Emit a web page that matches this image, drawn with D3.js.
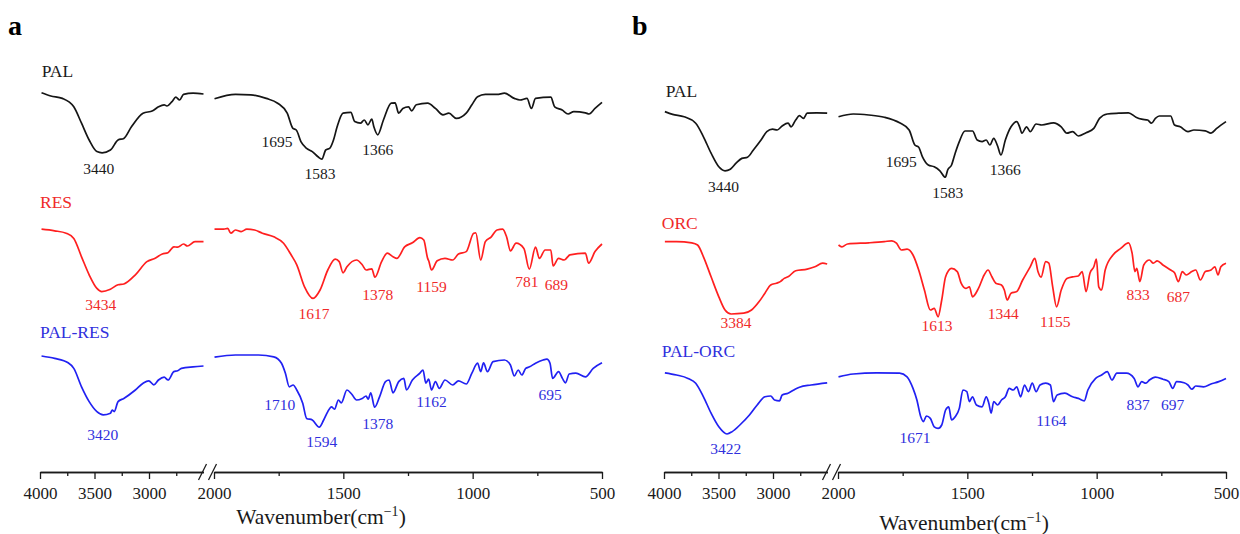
<!DOCTYPE html>
<html>
<head>
<meta charset="utf-8">
<script src="https://cdn.jsdelivr.net/npm/d3@7"></script>
<style>
  body { margin: 0; background: #fff; }
  svg text { font-family: "Liberation Serif", "Times New Roman", serif; }
</style>
</head>
<body>
<svg id="chart" width="1240" height="534"></svg>
<script>
// ---- data: [wavenumber (cm-1), transmittance (a.u., stacked)] ----
const PAL_A = [
  [3986,94.3],[3901,93.5],[3795,92.9],[3690,90.8],[3619,86.7],[3549,82.5],[3478,79.6],[3430,79.3],[3354,80],[3284,82.5],
  [3231,82.9],[3161,85.8],[3055,89.2],[2966,89.8],[2913,90.8],[2861,91.3],[2836,91],[2789,92.1],[2754,93.2],[2719,92.5],
  [2683,93.9],[2596,94.2],[2500,94],
  [1998,92.8],[1917,93.9],[1858,93.8],[1798,92.9],[1754,91.7],[1717,89.2],[1695,85.4],[1682,85],[1664,82.1],[1642,80.4],
  [1620,79.6],[1598,78.3],[1583,77.7],[1568,80],[1553,80.4],[1538,82.5],[1524,85.8],[1501,89.2],[1471,89.4],[1456,87.1],
  [1434,86.7],[1419,87.5],[1405,86.3],[1390,87.7],[1382,85.8],[1367,83.8],[1345,87.5],[1315,91.7],[1300,91.8],[1286,89.2],
  [1270,90.4],[1248,90.8],[1236,89.8],[1218,91.3],[1174,91.7],[1144,90.4],[1115,88.8],[1092,89.2],[1063,87.9],[1025,89.2],
  [1003,91.3],[981,93.3],[951,93.9],[906,93.9],[877,94.2],[839,92.9],[817,92.5],[790,92.9],[773,90.4],[757,92.9],
  [698,93.2],[683,90.8],[654,90],[631,89],[609,89.6],[564,89.3],[550,89],[527,90.4],[500,91.9]
];

const RES = [
  [3986,60.2],[3866,59.8],[3760,59.2],[3690,57.9],[3619,53.3],[3549,48.8],[3478,45.4],[3434,44.6],[3354,45.2],[3284,46.3],
  [3231,46.5],[3125,48.8],[3019,52.1],[2948,52.9],[2878,54],[2826,54.3],[2772,55.8],[2737,55.7],[2683,56.5],[2648,56],
  [2578,57.1],[2500,57.1],
  [1998,60.2],[1962,60.2],[1947,60.4],[1935,59.2],[1917,60],[1895,59.6],[1873,60.2],[1843,60],[1813,59.2],[1769,58.3],
  [1731,56.7],[1702,53.8],[1680,51.3],[1650,45.8],[1617,42.9],[1590,45],[1560,50],[1531,52.7],[1516,52.1],[1501,49.3],
  [1486,50.8],[1449,52.5],[1427,51.3],[1412,50],[1390,50.3],[1378,48.2],[1352,52.1],[1330,54.2],[1308,53.3],[1293,52.9],
  [1263,55.8],[1233,56.8],[1204,58.1],[1189,57.5],[1174,52.9],[1170,52.3],[1159,50],[1137,52.3],[1107,52.9],[1077,52.5],
  [1055,54],[1025,54.6],[996,59.2],[988,59.3],[969,52.5],[951,57.1],[928,58.3],[906,60],[884,60.2],[869,58.3],
  [854,54.8],[832,56.7],[802,55.4],[781,50.2],[757,55.7],[742,52.9],[720,55],[698,55],[689,51],[668,52.9],
  [646,52.5],[624,53.8],[564,54.2],[552,51.7],[527,54.6],[500,56.5]
];

const PAL_RES = [
  [3986,28.5],[3866,27.9],[3742,26.8],[3690,25.4],[3619,20.8],[3549,17.1],[3478,14.6],[3420,13.8],[3354,14.2],[3337,15],
  [3319,14.6],[3284,17.1],[3231,17.9],[3125,20],[3054,21.7],[3002,22.3],[2956,21.3],[2913,22.5],[2861,23.2],[2825,22.5],
  [2772,24.6],[2737,24.8],[2702,25.4],[2596,25.8],[2500,26],
  [1998,28.2],[1917,28.75],[1828,28.75],[1769,28.3],[1739,26.7],[1724,24.2],[1709,20.8],[1694,21.25],[1680,20],[1657,16.7],
  [1642,12.9],[1620,12.5],[1593,10.7],[1576,12.5],[1560,14.6],[1546,15.8],[1534,15.2],[1519,17.5],[1508,16.8],[1486,20],
  [1468,19],[1449,17.5],[1427,17.9],[1412,18.5],[1404,17.7],[1394,19.3],[1379,15.7],[1360,18.3],[1337,22.1],[1323,22.5],
  [1308,19.3],[1286,22.1],[1266,22.9],[1256,20],[1233,22.5],[1204,24.2],[1192,25],[1181,21.7],[1170,22.7],[1159,20],
  [1144,22.1],[1129,20.4],[1107,22.5],[1077,21.25],[1055,22.3],[1025,21.5],[1003,24.2],[981,26.7],[969,24.6],[958,26.8],
  [943,24.6],[921,27.1],[877,27.5],[854,26.25],[839,23.5],[824,25],[810,23.75],[795,25.4],[780,25.8],[757,26.7],
  [728,27.5],[713,27.7],[701,26.7],[691,22.9],[668,24.6],[653,22.9],[641,21.8],[627,24],[601,24.2],[564,23.3],
  [534,25.4],[500,26.8]
];

const PAL_B = [
  [3992,89.6],[3921,88.9],[3815,88.3],[3709,86.7],[3638,83.3],[3568,79.2],[3497,75.8],[3440,74.8],[3392,75.2],[3339,76.7],
  [3286,77.9],[3234,78.2],[3180,80],[3110,82.5],[3057,84.6],[3004,85.2],[2961,85],[2916,86],[2862,86.7],[2834,85.8],
  [2792,87.5],[2757,88.6],[2721,87.9],[2686,89.2],[2598,89.3],[2503,89.2],
  [1998,88.3],[1941,89],[1881,88.75],[1821,88.2],[1762,86.8],[1725,85],[1703,81.25],[1688,80.7],[1673,78.2],[1651,76.25],
  [1628,75.8],[1606,74.8],[1585,73.2],[1576,75],[1561,76.25],[1547,79.2],[1531,82.1],[1509,84.75],[1480,84.75],[1462,82.5],
  [1443,82.1],[1427,82.5],[1413,81.25],[1398,82.9],[1383,81],[1370,78.75],[1353,82.5],[1331,85.8],[1309,87.1],[1298,85.8],
  [1289,84.2],[1271,85.8],[1257,84.6],[1234,86.5],[1212,86.25],[1167,86.8],[1137,85.8],[1115,84.2],[1093,84.6],[1071,83.5],
  [1041,84.3],[1011,85.4],[989,87.9],[959,89],[914,89.2],[877,89.3],[848,88.2],[826,87.7],[803,87.5],[788,86.7],
  [773,87.9],[758,88.5],[714,88.5],[699,86.25],[677,85.8],[647,84.6],[624,85],[580,84.8],[558,84.2],[536,85.4],
  [500,87.1]
];

const ORC = [
  [3992,57.1],[3885,57.1],[3745,56.8],[3692,56.25],[3638,53.3],[3568,48.3],[3497,43.3],[3440,40],[3384,39],[3268,39.2],
  [3197,40],[3127,42.1],[3074,44.2],[3021,46.25],[2968,46.7],[2933,47.1],[2897,47.9],[2862,48.3],[2792,49.8],[2686,50.2],
  [2616,50.8],[2545,51.7],[2503,51.5],
  [1998,56.25],[1985,55.8],[1963,56.5],[1881,56.8],[1821,57.1],[1792,57.3],[1774,56.7],[1755,55],[1733,55.2],[1710,53.75],
  [1688,50],[1666,45],[1643,40],[1628,40.4],[1613,38.3],[1599,42.5],[1584,48.3],[1561,50.4],[1539,49.6],[1524,46.7],
  [1506,45.4],[1492,45.8],[1480,43.3],[1457,45.4],[1435,48.75],[1420,50],[1405,48.3],[1390,46.7],[1368,46.25],[1357,45],
  [1346,42.5],[1331,44.2],[1309,44.6],[1286,47.5],[1257,50.8],[1239,52.9],[1227,49.6],[1215,48.2],[1197,52.1],[1185,51.7],
  [1170,45.8],[1155,40.8],[1137,45],[1115,47.9],[1093,48.3],[1071,48.5],[1056,49.6],[1041,44.6],[1026,49.2],[1011,50.8],
  [1001,52.7],[992,45.8],[981,45],[967,50],[937,53.75],[907,55.4],[877,56.8],[863,54.2],[852,49.6],[845,50.4],
  [833,47.1],[818,51.25],[796,52.5],[781,51.7],[766,52.3],[744,51.25],[714,50],[699,49.3],[684,47.1],[669,49.6],
  [654,48.75],[632,49.6],[617,50],[599,47.5],[580,49.6],[558,50],[543,50.8],[531,48.75],[520,50.8],[500,51.7]
];

const PAL_ORC = [
  [3992,24.3],[3885,23.75],[3780,22.9],[3709,21.7],[3638,18.3],[3568,14.2],[3497,10.8],[3422,9],[3374,9.6],[3304,11.25],
  [3216,13.75],[3145,16.25],[3074,18.3],[3021,18.5],[2986,17.5],[2940,17.3],[2916,18.75],[2862,19.2],[2809,20],[2757,20.7],
  [2651,21.25],[2503,21.8],
  [1998,23.3],[1941,24],[1851,24.3],[1762,24.2],[1733,23.3],[1710,20.4],[1695,17.5],[1680,13.3],[1670,12.1],[1658,13.5],
  [1643,12.9],[1628,10.8],[1613,10.4],[1599,11.25],[1584,15],[1572,15.8],[1561,12.5],[1547,13.3],[1531,15.4],[1517,20],
  [1502,19.6],[1492,17.1],[1480,18.3],[1465,16.25],[1443,15.8],[1427,18.3],[1417,16.7],[1408,14.2],[1398,17.1],[1383,16.25],
  [1368,17.5],[1353,18.3],[1338,20.4],[1323,20],[1309,20.8],[1294,18.3],[1279,21.25],[1264,19.6],[1249,21.7],[1234,19.6],
  [1219,21.25],[1197,21.7],[1179,21.25],[1167,17.1],[1153,18.75],[1123,19.2],[1093,18.3],[1071,17.9],[1048,17.3],[1034,20],
  [1004,22.9],[981,23.75],[959,24.6],[941,22.5],[922,24.2],[885,24.2],[855,22.9],[840,20.8],[826,22.1],[810,21.7],
  [796,22.5],[773,23.2],[744,22.7],[721,22.1],[706,20.4],[691,22.1],[662,21.8],[647,21.25],[632,20.2],[617,21],
  [587,20.8],[558,21.5],[528,22.1],[500,22.9]
];

// peak annotations: [text, wavenumber, transmittance of baseline]
const PAL_A_PEAKS = [["3440",3461,74],["1695",1756,80.75],["1583",1590,72.75],["1366",1367,78.75]];
const RES_PEAKS = [["3434",3442,39.9],["1617",1613,37.75],["1378",1367,42.4],["1159",1159,44.5],["781",790,45.75],["689",676,44.9]];
const PAL_RES_PEAKS = [["3420",3425,7.4],["1710",1746,14.9],["1594",1583,5.75],["1378",1367,10.25],["1162",1159,15.75],["695",701,17.4]];
const PAL_B_PEAKS = [["3440",3455,69.5],["1695",1755,75.75],["1583",1576,68],["1366",1353,73.75]];
const ORC_PEAKS = [["3384",3339,35.5],["1613",1617,34.75],["1344",1361,37.75],["1155",1160,35.75],["833",840,42.4],["687",684,42]];
const PAL_ORC_PEAKS = [["3422",3434,4],["1671",1702,6.75],["1164",1175,11.1],["837",840,14.9],["697",706,14.9]];

// tick values for the broken axis
const LEFT_MAJOR = [4000, 3500, 3000];
const LEFT_MINOR = [3750, 3250, 2750];
const RIGHT_MAJOR = [2000, 1500, 1000, 500];
const RIGHT_MINOR = [1750, 1250, 750];

const COLORS = { black: "#151515", red: "#ff1f1f", blue: "#2121f2" };
const TEXT_COLORS = { black: "#1a1a1a", red: "#f02a2a", blue: "#3030dd" };

const panels = [
  {
    letter: "a", dx: 0, titleX: 321, titleY: 524,
    spectra: [
      { name: "PAL", data: PAL_A, peaks: PAL_A_PEAKS, color: "black", nameAt: [3984, 98.25] },
      { name: "RES", data: RES, peaks: RES_PEAKS, color: "red", nameAt: [4000, 65.4] },
      { name: "PAL-RES", data: PAL_RES, peaks: PAL_RES_PEAKS, color: "blue", nameAt: [4000, 32.9] }
    ]
  },
  {
    letter: "b", dx: 624, titleX: 340, titleY: 530,
    spectra: [
      { name: "PAL", data: PAL_B, peaks: PAL_B_PEAKS, color: "black", nameAt: [3984, 93.2] },
      { name: "ORC", data: ORC, peaks: ORC_PEAKS, color: "red", nameAt: [4020, 60.2] },
      { name: "PAL-ORC", data: PAL_ORC, peaks: PAL_ORC_PEAKS, color: "blue", nameAt: [4020, 28.2] }
    ]
  }
];

// ---- scales ----
const AXIS_Y = 472;
const BREAK = 2250; // wavenumbers above this sit on the left segment
const y = d3.scaleLinear().domain([0, 100]).range([470, 70]);
const xLeft = d3.scaleLinear().domain([4000, 2500]).range([40, 203.5]);
const xRight = d3.scaleLinear().domain([2000, 500]).range([214, 602]);
const xOf = (wn) => (wn > BREAK ? xLeft(wn) : xRight(wn));

const svg = d3.select("#chart");

const line = d3.line()
  .x((d) => xOf(d[0]))
  .y((d) => y(d[1]))
  .curve(d3.curveMonotoneX);

function drawAxis(g) {
  const ax = g.append("g").attr("transform", `translate(0,${AXIS_Y})`);
  [[xLeft, LEFT_MAJOR, LEFT_MINOR], [xRight, RIGHT_MAJOR, RIGHT_MINOR]].forEach(([sc, major, minor]) => {
    ax.append("g")
      .call(d3.axisBottom(sc).tickValues(minor).tickSizeInner(4).tickSizeOuter(0).tickFormat(""));
    ax.append("g")
      .call(d3.axisBottom(sc).tickValues(major).tickSizeInner(7).tickSizeOuter(0).tickPadding(8)
        .tickFormat(d3.format("d")))
      .attr("font-family", null)
      .attr("font-size", null)
      .selectAll("text")
      .attr("font-size", 17)
      .attr("fill", "#1a1a1a");
  });
  ax.selectAll("path, line").attr("stroke", "#1a1a1a").attr("stroke-width", 1.3);

  // the two slashes of the axis break
  const breaks = [xLeft(2500) - 1, xRight(2000) - 1.5];
  ax.selectAll("line.brk")
    .data(breaks)
    .join("line")
    .attr("class", "brk")
    .attr("x1", (c) => c - 4).attr("y1", 8)
    .attr("x2", (c) => c + 4).attr("y2", -8)
    .attr("stroke", "#1a1a1a")
    .attr("stroke-width", 1.3);
}

panels.forEach((p) => {
  const g = svg.append("g").attr("transform", `translate(${p.dx},0)`);

  g.append("text")
    .attr("x", 8).attr("y", 35)
    .attr("font-size", 28)
    .attr("font-weight", "bold")
    .text(p.letter);

  p.spectra.forEach((s) => {
    const left = s.data.filter((d) => d[0] > BREAK);
    const right = s.data.filter((d) => d[0] <= BREAK);
    g.selectAll(null)
      .data([left, right])
      .join("path")
      .attr("d", line)
      .attr("fill", "none")
      .attr("stroke", COLORS[s.color])
      .attr("stroke-width", 1.7)
      .attr("stroke-linejoin", "round");

    g.append("text")
      .attr("x", xLeft(s.nameAt[0]))
      .attr("y", y(s.nameAt[1]))
      .attr("font-size", 17.5)
      .attr("fill", TEXT_COLORS[s.color])
      .text(s.name);

    g.selectAll(null)
      .data(s.peaks)
      .join("text")
      .attr("x", (d) => xOf(d[1]))
      .attr("y", (d) => y(d[2]))
      .attr("text-anchor", "middle")
      .attr("font-size", 15.5)
      .attr("fill", TEXT_COLORS[s.color])
      .text((d) => d[0]);
  });

  drawAxis(g);

  const title = g.append("text")
    .attr("x", p.titleX).attr("y", p.titleY)
    .attr("text-anchor", "middle")
    .attr("font-size", 21.5)
    .attr("fill", "#1a1a1a");
  title.append("tspan").text("Wavenumber(cm");
  title.append("tspan").attr("font-size", 14).attr("dy", -8).text("\u22121");
  title.append("tspan").attr("dy", 8).text(")");
});
</script>
</body>
</html>
